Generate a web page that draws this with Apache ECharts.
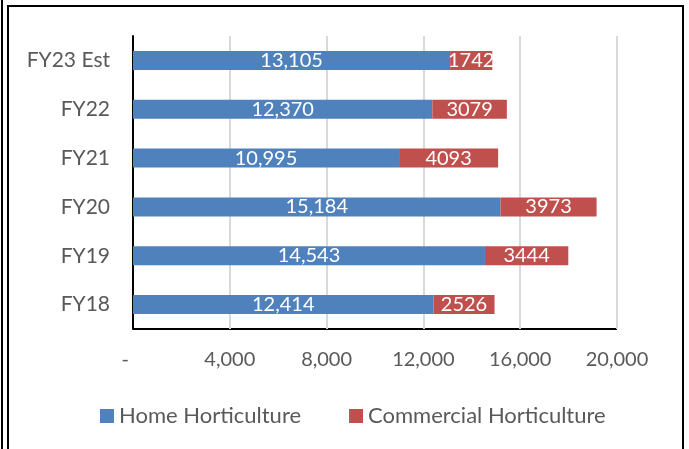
<!DOCTYPE html>
<html><head><meta charset="utf-8">
<script src="https://cdn.jsdelivr.net/npm/echarts@6/dist/echarts.min.js"></script>
<style>html,body{margin:0;padding:0;background:#fff}#c{width:689px;height:449px}</style>
</head><body><div id="c"></div>
<script>
const categories = ['FY18','FY19','FY20','FY21','FY22','FY23 Est'];
const homeValues = [12414,14543,15184,10995,12370,13105];
const commercialValues = [2526,3444,3973,4093,3079,1742];
const seriesNames = ['Home Horticulture','Commercial Horticulture'];
const FONT = 'Lato, "Open Sans", sans-serif';
const chart = echarts.init(document.getElementById('c'), null, {renderer:'canvas'});
chart.setOption({
  animation:false,
  backgroundColor:'#fff',
  textStyle:{fontFamily:FONT},
  grid:{left:133, right:72, top:36, bottom:120, containLabel:false},
  legend:{
    data:seriesNames, left:95, top:400, itemWidth:14, itemHeight:14, itemGap:48,
    icon:'rect',
    textStyle:{fontFamily:FONT, fontSize:22, color:'#595959'}
  },
  xAxis:{
    type:'value', min:0, max:20000, interval:4000,
    axisLine:{show:false}, axisTick:{show:false},
    splitLine:{lineStyle:{color:'#d9d9d9', width:2}},
    axisLabel:{fontFamily:FONT, fontSize:20, color:'#595959', margin:21,
      formatter:v=> v===0 ? '-   ' : v.toLocaleString('en-US')}
  },
  yAxis:{
    type:'category', data:categories,
    axisLine:{show:true, lineStyle:{color:'#000', width:2}, onZero:false},
    axisTick:{show:false},
    axisLabel:{fontFamily:FONT, fontSize:21, color:'#595959', margin:23}
  },
  series:[
    {name:seriesNames[0], type:'bar', stack:'t', data:homeValues, barWidth:19,
     itemStyle:{color:'#4F81BD'},
     label:{show:true, position:'inside', color:'#fff', fontFamily:FONT, fontSize:20,
       formatter:p=>p.value.toLocaleString('en-US')}},
    {name:seriesNames[1], type:'bar', stack:'t', data:commercialValues, barWidth:19,
     itemStyle:{color:'#C0504D'},
     label:{show:true, position:'inside', color:'#fff', fontFamily:FONT, fontSize:20,
       formatter:p=>String(p.value)}}
  ],
  graphic:[
    {type:'line', shape:{x1:133,y1:329,x2:617,y2:329}, style:{stroke:'#000', lineWidth:2}},
    {type:'rect', shape:{x:8,y:6,width:675,height:460}, style:{fill:null, stroke:'#000', lineWidth:2}},
    {type:'line', shape:{x1:2,y1:0,x2:2,y2:449}, style:{stroke:'#000', lineWidth:2}}
  ]
});
</script></body></html>
